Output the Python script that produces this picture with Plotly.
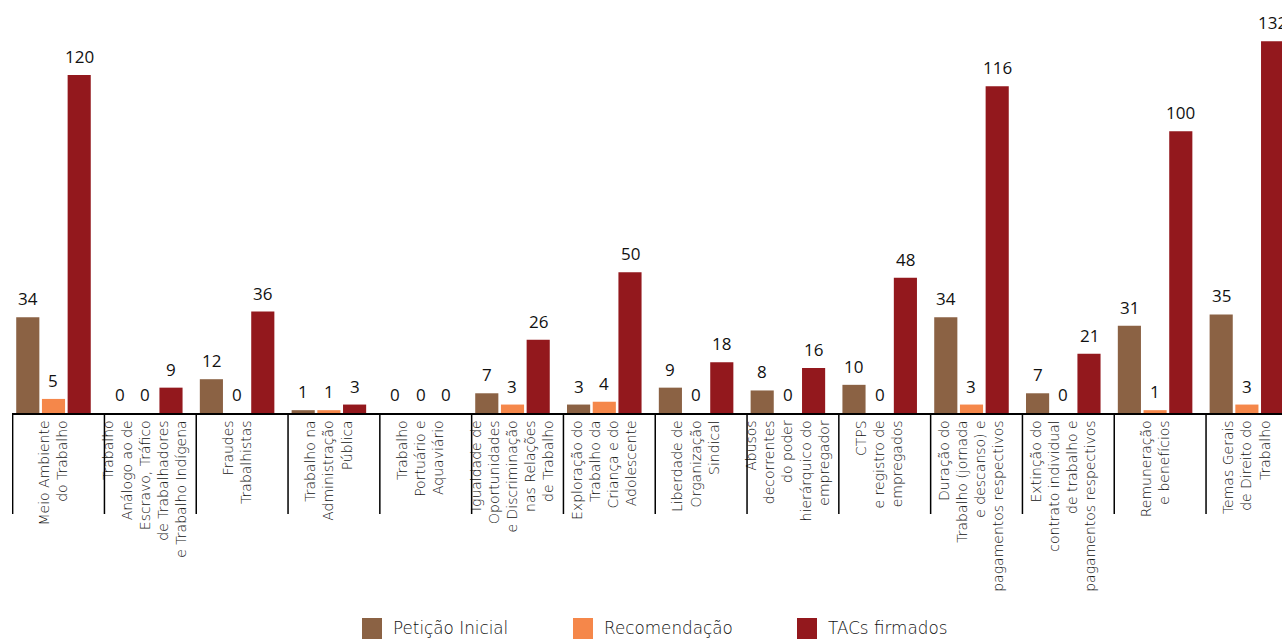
import plotly.graph_objects as go

categories = [
    "Meio Ambiente<br>do Trabalho",
    "Trabalho<br>Análogo ao de<br>Escravo, Tráfico<br>de Trabalhadores<br>e Trabalho Indígena",
    "Fraudes<br>Trabalhistas",
    "Trabalho na<br>Administração<br>Pública",
    "Trabalho<br>Portuário e<br>Aquaviário",
    "Igualdade de<br>Oportunidades<br>e Discriminação<br>nas Relações<br>de Trabalho",
    "Exploração do<br>Trabalho da<br>Criança e do<br>Adolescente",
    "Liberdade de<br>Organização<br>Sindical",
    "Abusos<br>decorrentes<br>do poder<br>hierárquico do<br>empregador",
    "CTPS<br>e registro de<br>empregados",
    "Duração do<br>Trabalho (jornada<br>e descanso) e<br>pagamentos respectivos",
    "Extinção do<br>contrato individual<br>de trabalho e<br>pagamentos respectivos",
    "Remuneração<br>e benefícios",
    "Temas Gerais<br>de Direito do<br>Trabalho",
]
peticao_inicial = [34, 0, 12, 1, 0, 7, 3, 9, 8, 10, 34, 7, 31, 35]
recomendacao = [5, 0, 0, 1, 0, 3, 4, 0, 0, 0, 3, 0, 1, 3]
tacs_firmados = [120, 9, 36, 3, 0, 26, 50, 18, 16, 48, 116, 21, 100, 132]

series_names = ["Petição Inicial", "Recomendação", "TACs firmados"]
series_values = [peticao_inicial, recomendacao, tacs_firmados]
colors = ["#8B6244", "#F5874A", "#93181D"]

FONT = "Open Sans"
LABEL_FONT = "DejaVu Sans"
TXT = "#111111"

W, H = 1282, 639
BASE = 413          # pixel row of the baseline
PLOT_L = 12

n = len(categories)
xs = list(range(n))
fig = go.Figure()
for name, vals, col in zip(series_names, series_values, colors):
    fig.add_trace(go.Bar(x=xs, y=vals, name=name, marker_color=col,
                         marker_line_width=0, showlegend=False, cliponaxis=False))

bargap = 0.16
slot = (1 - bargap) / 3
annotations = []
for k, vals in enumerate(series_values):
    for i, v in enumerate(vals):
        annotations.append(dict(x=i + (k - 1) * slot, y=v, xref="x", yref="y",
                                text=str(v), showarrow=False, yanchor="bottom",
                                yshift=5, font=dict(family=FONT, size=17, color=TXT, weight=400)))

shapes = []
for i in range(n):
    shapes.append(dict(type="line", xref="x", yref="paper", x0=i - 0.445, x1=i - 0.445,
                       y0=0, y1=-101 / BASE, line=dict(color="black", width=1.5)))

# manual legend
leg_x = [362, 573, 797]
PW = W - PLOT_L
for name, col, lx in zip(series_names, colors, leg_x):
    shapes.append(dict(type="rect", xref="paper", yref="paper",
                       x0=(lx - PLOT_L) / PW, x1=(lx + 20 - PLOT_L) / PW,
                       y0=-(639 - BASE) / BASE, y1=-(618 - BASE) / BASE,
                       fillcolor=col, line_width=0))
    annotations.append(dict(x=(lx + 29 - PLOT_L) / PW, y=-(628 - BASE) / BASE, xref="paper", yref="paper",
                            text=name, showarrow=False, xanchor="left", yanchor="middle",
                            font=dict(family=LABEL_FONT, size=16.8, color=TXT, weight=300)))

fig.update_layout(
    width=W, height=H,
    margin=dict(l=PLOT_L, r=0, t=0, b=H - BASE, pad=0),
    barmode="group", bargap=bargap, bargroupgap=0.1,
    plot_bgcolor="white", paper_bgcolor="white",
    font=dict(family=FONT, color=TXT),
    xaxis=dict(range=[-0.452, -0.452 + PW / 91.8], tickmode="array", tickvals=xs,
               ticktext=categories, tickangle=-90, ticks="", showgrid=False,
               zeroline=False, showline=True, linecolor="black", linewidth=1.5,
               tickfont=dict(family=LABEL_FONT, size=14, color=TXT, weight=300)),
    yaxis=dict(range=[0, BASE / 2.817], visible=False, showgrid=False, zeroline=False),
    shapes=shapes, annotations=annotations,
)
fig.write_html("out.html", config={"displayModeBar": False},
               post_script="document.body.style.margin='0';document.body.style.overflow='hidden';")
